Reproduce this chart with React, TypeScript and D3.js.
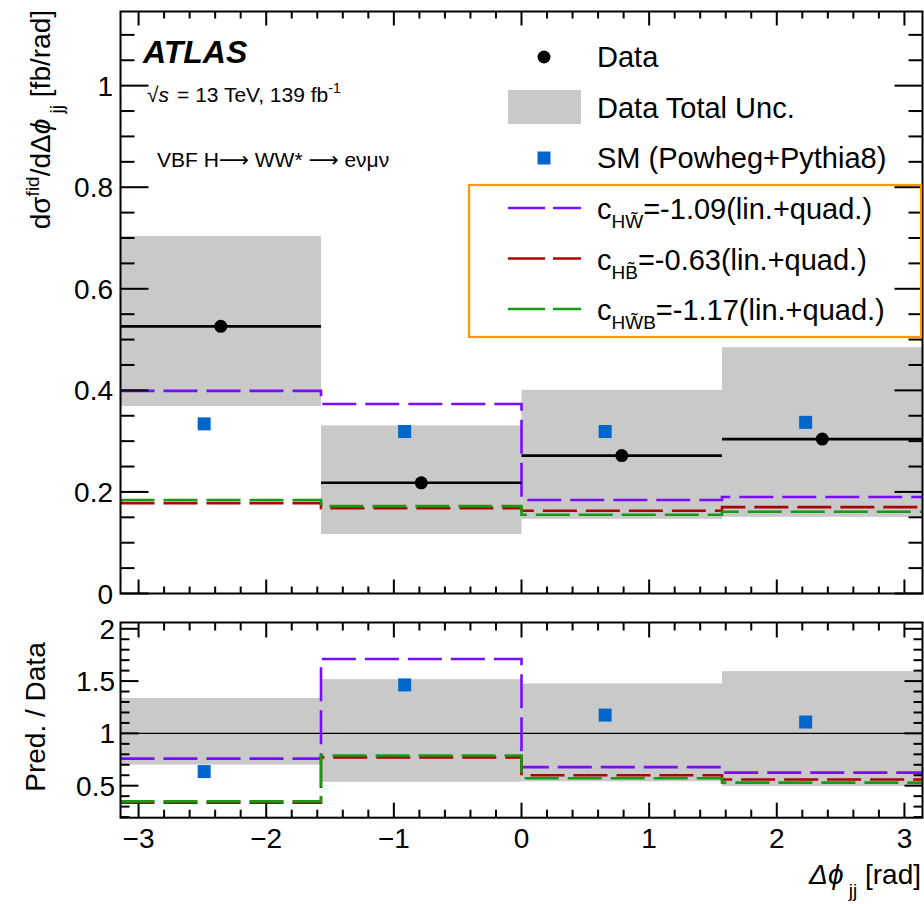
import * as d3 from 'd3';

// bin edges in Δφ_jj [rad]
const binEdges = [-Math.PI, -Math.PI / 2, 0, Math.PI / 2, Math.PI];

// measured cross-section [fb/rad]
const dataValues = [0.526, 0.218, 0.2715, 0.304];
const dataUncLow = [0.369, 0.117, 0.147, 0.151];
const dataUncHigh = [0.704, 0.331, 0.401, 0.485];

// SM prediction (Powheg+Pythia8), drawn slightly left of bin centre
const smValues = [0.334, 0.319, 0.319, 0.337];
const smShift = -0.13;

// EFT predictions
const cHWtilde = [0.399, 0.373, 0.184, 0.19];
const cHBtilde = [0.178, 0.168, 0.163, 0.17];
const cHWBtilde = [0.184, 0.172, 0.155, 0.161];

const eftSeries = [
  { name: 'HW\u0303', label: '=-1.09(lin.+quad.)', values: cHWtilde, color: '#7a0cff' },
  { name: 'HB\u0303', label: '=-0.63(lin.+quad.)', values: cHBtilde, color: '#b00000' },
  { name: 'HW\u0303B', label: '=-1.17(lin.+quad.)', values: cHWBtilde, color: '#159a15' },
];

const xMajor = [-3, -2, -1, 0, 1, 2, 3];
const topMajor = [0, 0.2, 0.4, 0.6, 0.8, 1];
const ratioMajor = [0.5, 1, 1.5, 2];

const FONT = '"Liberation Sans", Arial, Helvetica, sans-serif';
const GRAY = '#c9c9c9';
const BLUE = '#0066cc';
const DASH = '34,9';

export default function App() {
  const x = d3.scaleLinear().domain([-Math.PI, Math.PI]).range([120.5, 922.5]);
  const yTop = d3.scaleLinear().domain([0, 1.146]).range([593.5, 11.5]);
  const yRat = d3.scaleLinear().domain([0.194, 2.06]).range([817.7, 622.5]);

  const xMinor = d3.range(-3, 3.01, 0.2).map((v) => +v.toFixed(2)).filter((v) => Math.abs(v - Math.round(v)) > 0.01);
  const topMinor = d3.range(0, 1.146, 0.05).map((v) => +v.toFixed(2)).filter((v) => Math.abs(v / 0.2 - Math.round(v / 0.2)) > 0.01);
  const ratMinor = d3.range(0.2, 2.06, 0.1).map((v) => +v.toFixed(2)).filter((v) => Math.abs(v / 0.5 - Math.round(v / 0.5)) > 0.01);

  const centers = dataValues.map((_, i) => (binEdges[i] + binEdges[i + 1]) / 2);
  const ratio = (arr: number[]) => arr.map((v, i) => v / dataValues[i]);

  const stepPath = (vals: number[], y: d3.ScaleLinear<number, number>) => {
    const pts: [number, number][] = binEdges.map((e, i) => [e, vals[Math.min(i, vals.length - 1)]]);
    return d3.line<[number, number]>()
      .x((d) => x(d[0]))
      .y((d) => y(d[1]))
      .curve(d3.curveStepAfter)(pts) as string;
  };

  const frame = (y: d3.ScaleLinear<number, number>, yMaj: number[], yMin: number[], xt: number[], xtm: number[], yMajLen: number, yMinLen: number, xMajLen: number, xMinLen: number) => {
    const [y0, y1] = y.range();
    const [x0, x1] = x.range();
    const lines: JSX.Element[] = [];
    xt.forEach((v, i) => {
      lines.push(<line key={'xb' + i} x1={x(v)} x2={x(v)} y1={y0} y2={y0 - xMajLen} />);
      lines.push(<line key={'xt' + i} x1={x(v)} x2={x(v)} y1={y1} y2={y1 + xMajLen} />);
    });
    xtm.forEach((v, i) => {
      lines.push(<line key={'xbm' + i} x1={x(v)} x2={x(v)} y1={y0} y2={y0 - xMinLen} />);
      lines.push(<line key={'xtm' + i} x1={x(v)} x2={x(v)} y1={y1} y2={y1 + xMinLen} />);
    });
    yMaj.forEach((v, i) => {
      lines.push(<line key={'yl' + i} x1={x0} x2={x0 + yMajLen} y1={y(v)} y2={y(v)} />);
      lines.push(<line key={'yr' + i} x1={x1} x2={x1 - yMajLen} y1={y(v)} y2={y(v)} />);
    });
    yMin.forEach((v, i) => {
      lines.push(<line key={'ylm' + i} x1={x0} x2={x0 + yMinLen} y1={y(v)} y2={y(v)} />);
      lines.push(<line key={'yrm' + i} x1={x1} x2={x1 - yMinLen} y1={y(v)} y2={y(v)} />);
    });
    return (
      <g stroke="#000" strokeWidth={2} fill="none">
        {lines}
        <rect x={x0} y={y1} width={x1 - x0} height={y0 - y1} />
      </g>
    );
  };

  const bands = (lo: number[], hi: number[], y: d3.ScaleLinear<number, number>) =>
    lo.map((l, i) => (
      <rect key={'b' + i} x={x(binEdges[i])} width={x(binEdges[i + 1]) - x(binEdges[i])}
        y={y(hi[i])} height={y(l) - y(hi[i])} fill={GRAY} />
    ));

  const smMarks = (vals: number[], y: d3.ScaleLinear<number, number>) =>
    vals.map((v, i) => (
      <rect key={'sm' + i} x={x(centers[i] + smShift) - 6.5} y={y(v) - 6.5} width={13} height={13} fill={BLUE} />
    ));

  const arrowFont = '"DejaVu Sans", sans-serif';

  return (
    <svg width={924} height={904} style={{ position: 'absolute', left: 0, top: 0, background: '#fff' }} fontFamily={FONT}>
      {/* ---------- upper panel ---------- */}
      {bands(dataUncLow, dataUncHigh, yTop)}
      {eftSeries.map((s) => (
        <path key={s.name} d={stepPath(s.values, yTop)} fill="none" stroke={s.color} strokeWidth={2.6} strokeDasharray={DASH} />
      ))}
      {dataValues.map((v, i) => (
        <g key={'d' + i}>
          <line x1={x(binEdges[i])} x2={x(binEdges[i + 1])} y1={yTop(v)} y2={yTop(v)} stroke="#000" strokeWidth={2.6} />
          <circle cx={x(centers[i])} cy={yTop(v)} r={6.5} fill="#000" />
        </g>
      ))}
      {smMarks(smValues, yTop)}
      {frame(yTop, topMajor, topMinor, xMajor, xMinor, 28, 14, 14, 7)}
      {topMajor.map((v) => (
        <text key={'ty' + v} x={113} y={yTop(v)} dy="0.36em" textAnchor="end" fontSize={28}>{v}</text>
      ))}

      {/* labels */}
      <text x={143} y={63} fontSize={32} fontWeight="bold" fontStyle="italic">ATLAS</text>
      <text x={147} y={102} fontSize={21}>
        √<tspan fontStyle="italic">s</tspan><tspan dx={8}>= 13 TeV, 139 fb</tspan><tspan dy={-9} fontSize={14}>-1</tspan>
      </text>
      <text x={157} y={167} fontSize={21}>
        VBF H<tspan fontFamily={arrowFont}>⟶</tspan> WW* <tspan fontFamily={arrowFont}>⟶</tspan> eνμν
      </text>

      {/* legend */}
      <circle cx={544} cy={57} r={6.5} fill="#000" />
      <text x={597} y={67} fontSize={29}>Data</text>
      <rect x={508} y={90} width={73} height={34} fill={GRAY} />
      <text x={597} y={118} fontSize={29}>Data Total Unc.</text>
      <rect x={537.5} y={151.5} width={13} height={13} fill={BLUE} />
      <text x={597} y={168} fontSize={29}>SM (Powheg+Pythia8)</text>
      <rect x={469} y={185} width={452} height={152} fill="none" stroke="#ff9900" strokeWidth={2.2} />
      {eftSeries.map((s, i) => (
        <g key={'lg' + s.name}>
          <line x1={508} x2={581} y1={208 + i * 50.5} y2={208 + i * 50.5} stroke={s.color} strokeWidth={2.6} strokeDasharray="37,8" />
          <text x={597} y={219 + i * 50.5} fontSize={29}>
            c<tspan dy={9} fontSize={19}>{s.name}</tspan><tspan dy={-9}>{s.label}</tspan>
          </text>
        </g>
      ))}

      {/* y title upper */}
      <text transform="translate(50,10) rotate(-90)" textAnchor="end" fontSize={28}>
        dσ<tspan dy={-11} fontSize={19}>fid</tspan><tspan dy={11}>/dΔ</tspan><tspan fontStyle="italic">ϕ</tspan>
        <tspan dy={13} fontSize={19}> jj</tspan><tspan dy={-13}>  [fb/rad]</tspan>
      </text>

      {/* ---------- ratio panel ---------- */}
      {bands(ratio(dataUncLow), ratio(dataUncHigh), yRat)}
      <line x1={x.range()[0]} x2={x.range()[1]} y1={yRat(1)} y2={yRat(1)} stroke="#000" strokeWidth={1.3} />
      {eftSeries.map((s) => (
        <path key={'r' + s.name} d={stepPath(ratio(s.values), yRat)} fill="none" stroke={s.color} strokeWidth={2.6} strokeDasharray={DASH} />
      ))}
      {smMarks(ratio(smValues), yRat)}
      {frame(yRat, ratioMajor, ratMinor, xMajor, xMinor, 18, 9, 15, 8)}
      {ratioMajor.map((v) => (
        <text key={'ry' + v} x={115} y={yRat(v)} dy="0.36em" textAnchor="end" fontSize={28}>{v}</text>
      ))}
      {xMajor.map((v) => (
        <text key={'rx' + v} x={x(v)} y={848} textAnchor="middle" fontSize={28}>{v < 0 ? '\u2212' + Math.abs(v) : v}</text>
      ))}
      <text transform="translate(45,717) rotate(-90)" textAnchor="middle" fontSize={28}>Pred. / Data</text>
      <text x={921} y={884} textAnchor="end" fontSize={28}>
        <tspan fontStyle="italic">Δϕ</tspan><tspan dy={13} fontSize={19}> jj</tspan><tspan dy={-13}> [rad]</tspan>
      </text>
    </svg>
  );
}
